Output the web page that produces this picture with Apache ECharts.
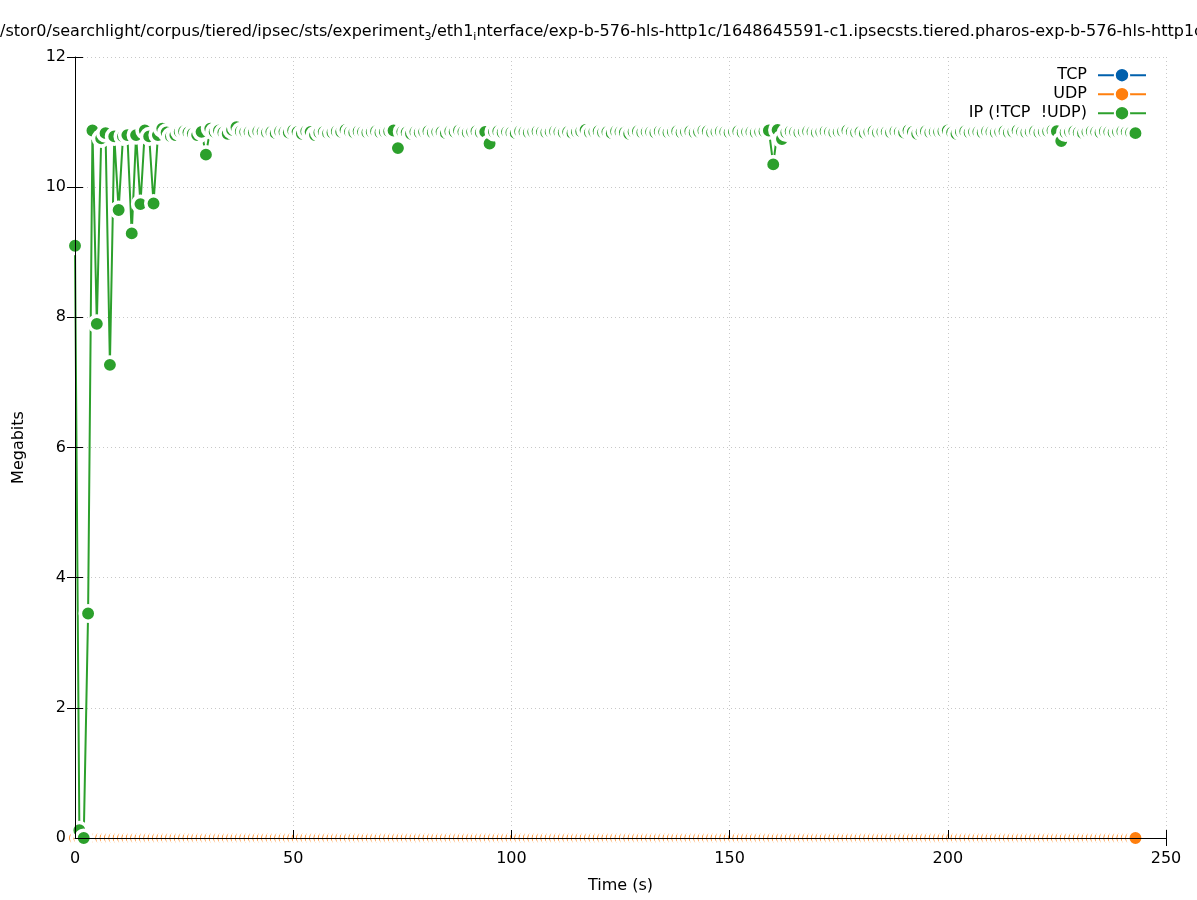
<!DOCTYPE html>
<html>
<head>
<meta charset="utf-8">
<script src="https://cdn.jsdelivr.net/npm/echarts@6/dist/echarts.min.js"></script>
<style>
html,body{margin:0;padding:0;background:#fff;}
#chart{width:1197px;height:900px;}
</style>
</head>
<body>
<div id="chart"></div>
<script>
// ---- data ----
const times = [
0,1,2,3,4,5,6,7,8,9,10,11,12,13,14,15,16,17,18,19,
20,21,22,23,24,25,26,27,28,29,30,31,32,33,34,35,36,37,38,39,
40,41,42,43,44,45,46,47,48,49,50,51,52,53,54,55,56,57,58,59,
60,61,62,63,64,65,66,67,68,69,70,71,72,73,74,75,76,77,78,79,
80,81,82,83,84,85,86,87,88,89,90,91,92,93,94,95,96,97,98,99,
100,101,102,103,104,105,106,107,108,109,110,111,112,113,114,115,116,117,118,119,
120,121,122,123,124,125,126,127,128,129,130,131,132,133,134,135,136,137,138,139,
140,141,142,143,144,145,146,147,148,149,150,151,152,153,154,155,156,157,158,159,
160,161,162,163,164,165,166,167,168,169,170,171,172,173,174,175,176,177,178,179,
180,181,182,183,184,185,186,187,188,189,190,191,192,193,194,195,196,197,198,199,
200,201,202,203,204,205,206,207,208,209,210,211,212,213,214,215,216,217,218,219,
220,221,222,223,224,225,226,227,228,229,230,231,232,233,234,235,236,237,238,239,
240,241,242,243
];
const tcpValues = [];
const udpValues = [
0,0,0,0,0,0,0,0,0,0,0,0,0,0,0,0,0,0,0,0,
0,0,0,0,0,0,0,0,0,0,0,0,0,0,0,0,0,0,0,0,
0,0,0,0,0,0,0,0,0,0,0,0,0,0,0,0,0,0,0,0,
0,0,0,0,0,0,0,0,0,0,0,0,0,0,0,0,0,0,0,0,
0,0,0,0,0,0,0,0,0,0,0,0,0,0,0,0,0,0,0,0,
0,0,0,0,0,0,0,0,0,0,0,0,0,0,0,0,0,0,0,0,
0,0,0,0,0,0,0,0,0,0,0,0,0,0,0,0,0,0,0,0,
0,0,0,0,0,0,0,0,0,0,0,0,0,0,0,0,0,0,0,0,
0,0,0,0,0,0,0,0,0,0,0,0,0,0,0,0,0,0,0,0,
0,0,0,0,0,0,0,0,0,0,0,0,0,0,0,0,0,0,0,0,
0,0,0,0,0,0,0,0,0,0,0,0,0,0,0,0,0,0,0,0,
0,0,0,0,0,0,0,0,0,0,0,0,0,0,0,0,0,0,0,0,
0,0,0,0
];
const ipValues = [
9.1,0.12,0.0,3.45,10.87,7.9,10.75,10.83,7.27,10.78,9.65,10.78,10.8,9.29,10.8,9.74,10.87,10.78,9.75,10.8,
10.9,10.84,10.78,10.8,10.85,10.86,10.84,10.82,10.8,10.85,10.5,10.9,10.85,10.87,10.84,10.82,10.88,10.92,10.86,10.85,
10.85,10.84,10.86,10.85,10.84,10.85,10.83,10.86,10.85,10.84,10.87,10.85,10.82,10.86,10.85,10.8,10.84,10.85,10.83,10.84,
10.86,10.85,10.88,10.85,10.84,10.86,10.85,10.84,10.85,10.86,10.84,10.85,10.86,10.87,10.6,10.85,10.84,10.82,10.85,10.84,
10.85,10.86,10.84,10.85,10.85,10.83,10.86,10.85,10.87,10.85,10.84,10.85,10.86,10.84,10.85,10.67,10.85,10.86,10.84,10.85,
10.84,10.83,10.86,10.85,10.84,10.85,10.86,10.85,10.84,10.85,10.86,10.85,10.84,10.85,10.83,10.85,10.86,10.88,10.84,10.85,
10.86,10.84,10.85,10.83,10.86,10.85,10.84,10.82,10.85,10.86,10.84,10.85,10.85,10.84,10.86,10.85,10.84,10.85,10.86,10.84,
10.85,10.86,10.84,10.85,10.87,10.86,10.84,10.85,10.86,10.85,10.84,10.85,10.86,10.84,10.85,10.85,10.84,10.85,10.86,10.87,
10.35,10.88,10.74,10.84,10.86,10.85,10.84,10.85,10.86,10.85,10.84,10.85,10.86,10.85,10.84,10.85,10.86,10.87,10.85,10.84,
10.85,10.83,10.85,10.86,10.84,10.85,10.85,10.84,10.86,10.85,10.84,10.87,10.85,10.82,10.85,10.86,10.84,10.85,10.85,10.86,
10.87,10.84,10.82,10.85,10.86,10.84,10.85,10.85,10.84,10.86,10.85,10.84,10.85,10.86,10.84,10.85,10.87,10.85,10.84,10.85,
10.86,10.84,10.85,10.86,10.87,10.86,10.71,10.84,10.85,10.86,10.84,10.83,10.85,10.86,10.85,10.84,10.86,10.85,10.84,10.85,
10.86,10.85,10.84,10.83
];
const seriesNames = ['TCP', 'UDP', 'IP (!TCP  !UDP)'];
const xTicks = { min: 0, max: 250, interval: 50 };
const yTicks = { min: 0, max: 12, interval: 2 };

// ---- chart ----
const FONT = 'DejaVu Sans';
const colors = ['#0060ad', '#ff7f0e', '#2ca02c'];
function pairs(vals) { return vals.map((v, i) => [times[i], v]); }

const chart = echarts.init(document.getElementById('chart'), null, { renderer: 'canvas' });

function mkSeries(name, vals, color) {
  return {
    type: 'line', name: name, data: pairs(vals),
    xAxisIndex: 0, yAxisIndex: 0,
    symbol: 'circle', symbolSize: 15.5, showSymbol: true, showAllSymbol: true,
    itemStyle: { color: color, borderColor: '#ffffff', borderWidth: 3.6 },
    lineStyle: { color: color, width: 2 },
    emphasis: { disabled: true },
    animation: false
  };
}

function mkLegend(idx, top) {
  return {
    data: [seriesNames[idx]], orient: 'vertical', right: 50, top: top, padding: 0,
    align: 'right', itemWidth: 48, itemHeight: 18,
    textStyle: { fontFamily: FONT, fontSize: 16, color: '#000', padding: [0, 6, 0, 0] },
    selectedMode: false
  };
}

const option = {
  backgroundColor: '#ffffff',
  animation: false,
  title: {
    text: '/stor0/searchlight/corpus/tiered/ipsec/sts/experiment{sub|3}/eth1{sub|i}nterface/exp-b-576-hls-http1c/1648645591-c1.ipsecsts.tiered.pharos-exp-b-576-hls-http1c',
    left: -5, top: 16,
    textStyle: {
      fontFamily: FONT, fontSize: 16, fontWeight: 'normal', color: '#000', lineHeight: 22,
      rich: { sub: { fontFamily: FONT, fontSize: 11, lineHeight: 11, verticalAlign: 'bottom', color: '#000' } }
    }
  },
  legend: [mkLegend(0, 67), mkLegend(1, 86), mkLegend(2, 105)],
  grid: { left: 75, right: 31, top: 57, bottom: 62, containLabel: false },
  xAxis: [
    {
      type: 'value', position: 'bottom', min: xTicks.min, max: xTicks.max, interval: xTicks.interval, z: 5,
      name: 'Time (s)', nameLocation: 'middle', nameGap: 40,
      nameTextStyle: { fontFamily: FONT, fontSize: 16, color: '#000' },
      axisLine: { show: true, onZero: false, lineStyle: { color: '#000', width: 1 } },
      axisTick: { show: true, inside: true, length: 8, lineStyle: { color: '#000' } },
      axisLabel: { fontFamily: FONT, fontSize: 16, color: '#000', margin: 13 },
      splitLine: { show: false }
    },
    {
      type: 'value', position: 'top', min: xTicks.min, max: xTicks.max, interval: xTicks.interval,
      axisLine: { show: false },
      axisTick: { show: true, inside: true, length: 8, lineStyle: { color: '#000' } },
      axisLabel: { show: false },
      splitLine: { show: true, lineStyle: { color: '#c8c8c8', width: 1, type: [1, 3] } }
    }
  ],
  yAxis: [
    {
      type: 'value', position: 'left', min: yTicks.min, max: yTicks.max, interval: yTicks.interval, z: 5,
      name: 'Megabits', nameLocation: 'middle', nameGap: 48,
      nameTextStyle: { fontFamily: FONT, fontSize: 16, color: '#000' },
      axisLine: { show: true, onZero: false, lineStyle: { color: '#000', width: 1 } },
      axisTick: { show: true, inside: true, length: 8, lineStyle: { color: '#000' } },
      axisLabel: { fontFamily: FONT, fontSize: 16, color: '#000', margin: 9, padding: [4, 0, 0, 0] },
      splitLine: { show: false }
    },
    {
      type: 'value', position: 'right', min: yTicks.min, max: yTicks.max, interval: yTicks.interval,
      axisLine: { show: false },
      axisTick: { show: true, inside: true, length: 8, lineStyle: { color: '#000' } },
      axisLabel: { show: false },
      splitLine: { show: true, lineStyle: { color: '#c8c8c8', width: 1, type: [1, 3] } }
    }
  ],
  series: [
    mkSeries(seriesNames[0], tcpValues, colors[0]),
    mkSeries(seriesNames[1], udpValues, colors[1]),
    mkSeries(seriesNames[2], ipValues, colors[2])
  ]
};
chart.setOption(option);
</script>
</body>
</html>
